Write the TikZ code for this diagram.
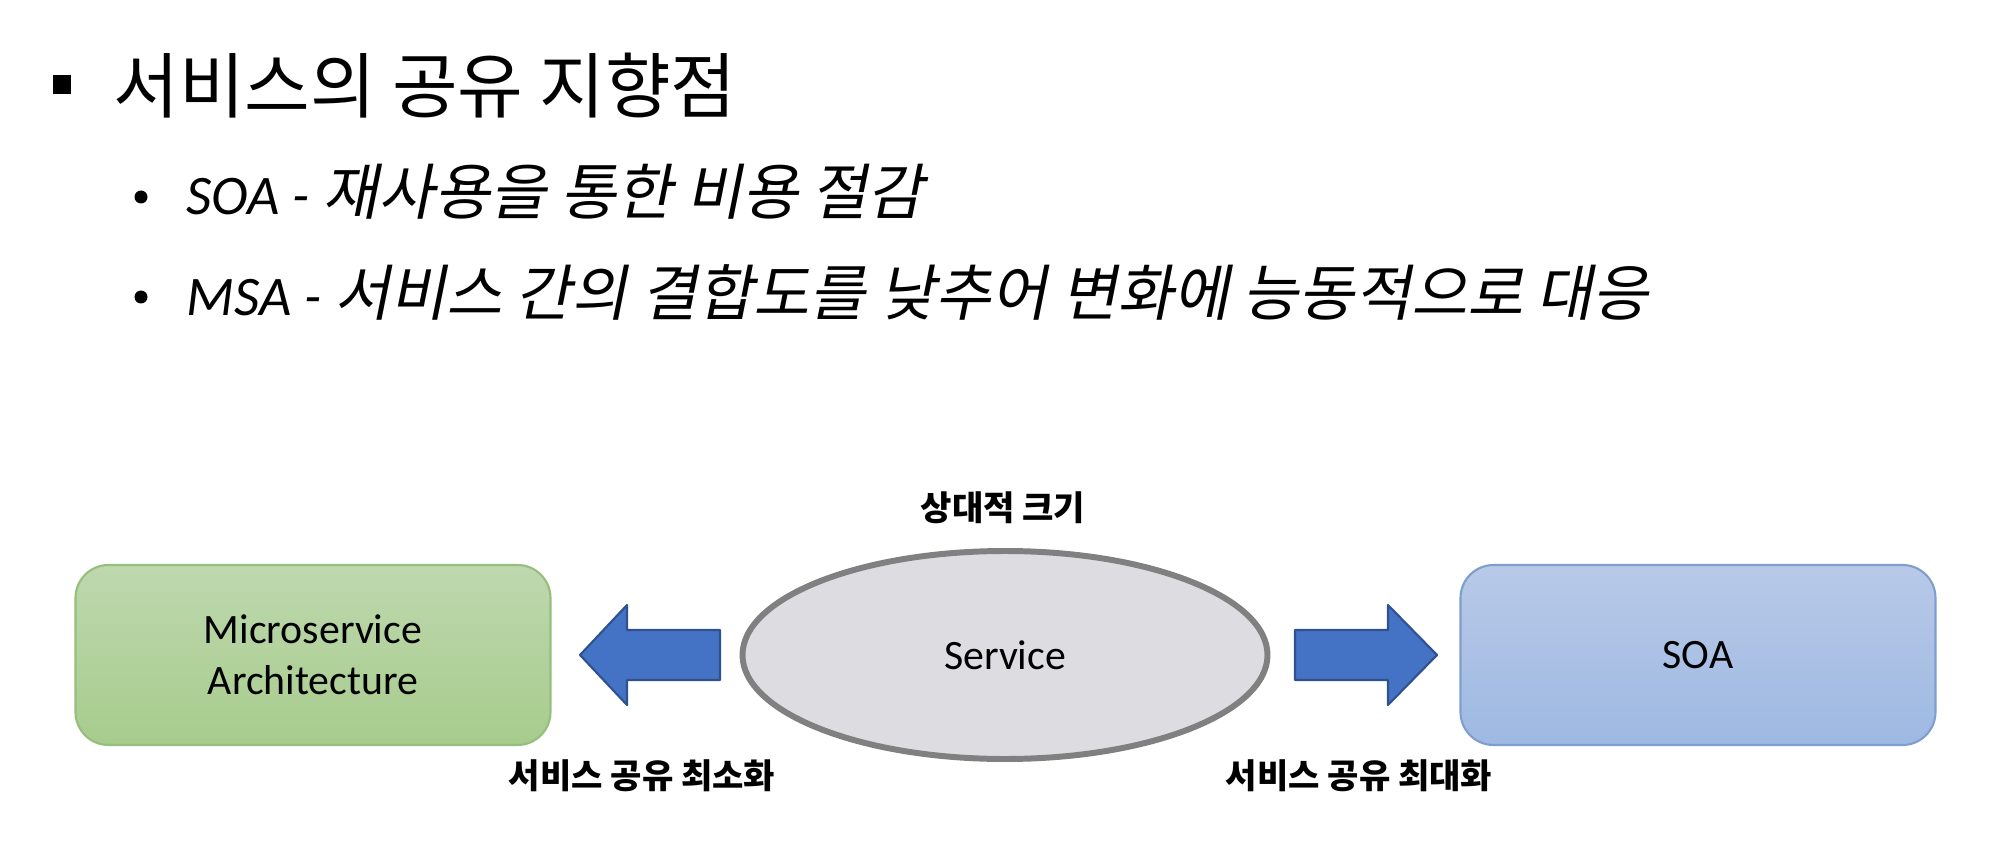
\documentclass[tikz,border=0pt]{standalone}
\usepackage{fontspec}
\setmainfont{Carlito}
\newfontfamily\kr{Noto Sans CJK KR}
\newfontfamily\krit[FakeSlant=0.2,Scale=1.09]{Noto Sans CJK KR}
\usetikzlibrary{shapes.geometric}
\definecolor{msatop}{RGB}{190,216,174}
\definecolor{msabot}{RGB}{167,204,141}
\definecolor{msaedge}{RGB}{150,190,125}
\definecolor{soatop}{RGB}{184,201,232}
\definecolor{soabot}{RGB}{158,185,226}
\definecolor{soaedge}{RGB}{128,158,205}
\definecolor{svcfill}{RGB}{221,220,225}
\definecolor{svcedge}{RGB}{128,128,128}
\definecolor{arrowblue}{RGB}{68,114,196}
\definecolor{arrowedge}{RGB}{47,82,143}
\begin{document}
\begin{tikzpicture}[x=0.1mm,y=-0.1mm,line join=round,
  archbox/.style={rounded corners=3.3mm,minimum width=47.5mm,minimum height=18mm,line width=0.6pt,align=center,font=\fontsize{11.9}{14.5}\selectfont},
  lbl/.style={inner sep=0,font=\kr\bfseries\fontsize{9.7}{11}\selectfont},
  bigarrow/.style={fill=arrowblue,draw=arrowedge,line width=0.6pt},
  item/.style={anchor=base west,inner sep=0,font=\fontsize{15.9}{18}\selectfont}]
\useasboundingbox (0,0) rectangle (1998,848);
% heading
\fill (53,75) rectangle (71,94);
\path (113,86) node[anchor=west,inner sep=0,font=\kr\fontsize{20.3}{23}\selectfont] (head) {서비스의 공유 지향점};
\fill (141,197) circle (6.5);
\path (186,215) node[item] (soaitem) {\itshape SOA - {\krit 재사용을 통한 비용 절감}};
\fill (141,297) circle (6.5);
\path (186,316) node[item] (msaitem) {\itshape MSA - {\krit 서비스 간의 결합도를 낮추어 변화에 능동적으로 대응}};
% diagram
\node[archbox,top color=msatop,bottom color=msabot,draw=msaedge] (msa) at (313,655) {Microservice\\Architecture};
\node[archbox,top color=soatop,bottom color=soabot,draw=soaedge] (soa) at (1698,655) {SOA};
\node[ellipse,draw=svcedge,fill=svcfill,line width=1.7pt,minimum width=52.5mm,minimum height=20.8mm,font=\fontsize{11.9}{14.5}\selectfont] (svc) at (1005,655) {Service};
\node[lbl] (size) at (1003,508) {상대적 크기};
\node[lbl] (minshare) at (642,776) {서비스 공유 최소화};
\node[lbl] (maxshare) at (1359,776) {서비스 공유 최대화};
\filldraw[bigarrow](580,655)--(627,605)--(627,630)--(720,630)--(720,680)--(627,680)--(627,705)--cycle;
\filldraw[bigarrow](1295,630)--(1388,630)--(1388,605)--(1437,655)--(1388,705)--(1388,680)--(1295,680)--cycle;
\end{tikzpicture}
\end{document}
